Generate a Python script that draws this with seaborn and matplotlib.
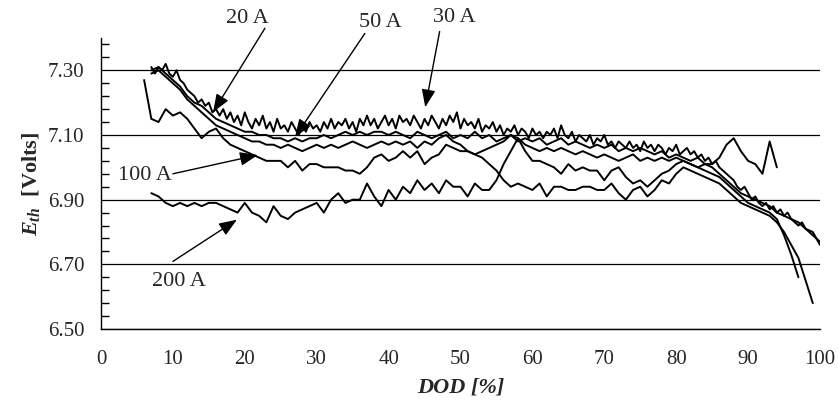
import matplotlib
matplotlib.use('Agg')
import matplotlib.pyplot as plt
from matplotlib.ticker import FixedLocator
import pandas as pd
import seaborn as sns

dod = [6, 7, 8, 9, 10, 11, 12, 13, 14, 15, 16, 17, 18, 19, 20, 21, 22, 23, 24, 25,
       26, 27, 28, 29, 30, 31, 32, 33, 34, 35, 36, 37, 38, 39, 40, 41, 42, 43, 44, 45,
       46, 47, 48, 49, 50, 51, 52, 53, 54, 55, 56, 57, 58, 59, 60, 61, 62, 63, 64, 65,
       66, 67, 68, 69, 70, 71, 72, 73, 74, 75, 76, 77, 78, 79, 80, 81, 82, 83, 84, 85,
       86, 87, 88, 89, 90, 91, 92, 93, 94, 95, 96, 97, 98, 99, 100]
# the 20 A curve is noisier, read at half-percent steps
dod_half = [d / 2 for d in range(14, 201)]

# E_th [V] per discharge current
eth_20 = [7.31, 7.29, 7.31, 7.30, 7.32, 7.29, 7.28, 7.30, 7.27, 7.26,
          7.24, 7.23, 7.22, 7.20, 7.21, 7.19, 7.20, 7.17, 7.18, 7.16,
          7.18, 7.15, 7.17, 7.14, 7.16, 7.13, 7.17, 7.14, 7.12, 7.15,
          7.13, 7.16, 7.12, 7.14, 7.11, 7.15, 7.12, 7.13, 7.11, 7.14,
          7.12, 7.10, 7.13, 7.11, 7.14, 7.12, 7.13, 7.11, 7.14, 7.12,
          7.15, 7.12, 7.14, 7.13, 7.15, 7.12, 7.14, 7.11, 7.15, 7.13,
          7.16, 7.13, 7.15, 7.12, 7.14, 7.16, 7.13, 7.15, 7.12, 7.16,
          7.14, 7.15, 7.13, 7.16, 7.14, 7.12, 7.15, 7.13, 7.16, 7.14,
          7.12, 7.15, 7.13, 7.16, 7.14, 7.17, 7.12, 7.15, 7.13, 7.14,
          7.12, 7.15, 7.11, 7.13, 7.12, 7.14, 7.11, 7.13, 7.10, 7.12,
          7.11, 7.13, 7.10, 7.12, 7.11, 7.09, 7.12, 7.10, 7.11, 7.09,
          7.11, 7.10, 7.12, 7.09, 7.13, 7.10, 7.09, 7.11, 7.08, 7.10,
          7.09, 7.08, 7.10, 7.07, 7.09, 7.08, 7.10, 7.07, 7.08, 7.06,
          7.08, 7.07, 7.06, 7.08, 7.06, 7.07, 7.05, 7.08, 7.06, 7.07,
          7.05, 7.07, 7.06, 7.04, 7.06, 7.05, 7.07, 7.04, 7.05, 7.06,
          7.04, 7.05, 7.03, 7.04, 7.02, 7.03, 7.01, 7.02, 7.00, 6.99,
          6.98, 6.97, 6.96, 6.94, 6.93, 6.94, 6.92, 6.90, 6.91, 6.89,
          6.88, 6.89, 6.87, 6.88, 6.86, 6.87, 6.85, 6.86, 6.84, 6.83,
          6.82, 6.83, 6.81, 6.80, 6.79, 6.78, 6.77]

start_30 = 7
eth_30 = [7.30, 7.31, 7.29, 7.27, 7.25, 7.22, 7.20, 7.19, 7.17, 7.15,
          7.14, 7.13, 7.12, 7.11, 7.11, 7.10, 7.10, 7.09, 7.09, 7.08,
          7.09, 7.08, 7.09, 7.09, 7.10, 7.09, 7.10, 7.11, 7.10, 7.11,
          7.10, 7.11, 7.11, 7.10, 7.11, 7.10, 7.09, 7.11, 7.10, 7.09,
          7.10, 7.11, 7.09, 7.10, 7.09, 7.11, 7.09, 7.10, 7.08, 7.09,
          7.10, 7.08, 7.09, 7.08, 7.09, 7.07, 7.08, 7.09, 7.07, 7.08,
          7.07, 7.06, 7.07, 7.06, 7.07, 7.05, 7.06, 7.05, 7.06, 7.05,
          7.04, 7.05, 7.03, 7.04, 7.03, 7.02, 7.03, 7.01, 7.00, 6.98,
          6.96, 6.94, 6.92, 6.91, 6.90, 6.89, 6.88, 6.86, 6.85, 6.84,
          6.83, 6.81, 6.80, 6.76]

start_50 = 7
eth_50 = [7.29, 7.30, 7.28, 7.26, 7.24, 7.21, 7.19, 7.17, 7.15, 7.13,
          7.12, 7.11, 7.10, 7.09, 7.08, 7.08, 7.07, 7.07, 7.06, 7.07,
          7.06, 7.05, 7.06, 7.07, 7.06, 7.07, 7.06, 7.07, 7.08, 7.07,
          7.06, 7.07, 7.08, 7.07, 7.08, 7.07, 7.08, 7.06, 7.08, 7.07,
          7.09, 7.10, 7.08, 7.07, 7.05, 7.04, 7.05, 7.06, 7.07, 7.08,
          7.10, 7.09, 7.07, 7.06, 7.05, 7.06, 7.05, 7.06, 7.05, 7.04,
          7.05, 7.04, 7.03, 7.04, 7.03, 7.02, 7.03, 7.04, 7.02, 7.03,
          7.02, 7.03, 7.02, 7.03, 7.02, 7.01, 7.00, 6.99, 6.98, 6.97,
          6.95, 6.93, 6.91, 6.89, 6.88, 6.87, 6.86, 6.84, 6.79, 6.73,
          6.66]

start_100 = 6
eth_100 = [7.27, 7.15, 7.14, 7.18, 7.16, 7.17, 7.15, 7.12, 7.09, 7.11,
           7.12, 7.09, 7.07, 7.06, 7.05, 7.04, 7.03, 7.02, 7.02, 7.02,
           7.00, 7.02, 6.99, 7.01, 7.01, 7.00, 7.00, 7.00, 6.99, 6.99,
           6.98, 7.00, 7.03, 7.04, 7.02, 7.03, 7.05, 7.03, 7.05, 7.01,
           7.03, 7.04, 7.07, 7.06, 7.05, 7.05, 7.04, 7.03, 7.01, 6.99,
           6.96, 6.94, 6.95, 6.94, 6.93, 6.95, 6.91, 6.94, 6.94, 6.93,
           6.93, 6.94, 6.94, 6.93, 6.93, 6.95, 6.92, 6.90, 6.93, 6.94,
           6.91, 6.93, 6.96, 6.95, 6.98, 7.00, 6.99, 6.98, 6.97, 6.96,
           6.95, 6.93, 6.91, 6.89, 6.88, 6.87, 6.86, 6.85, 6.83, 6.80,
           6.76, 6.72, 6.65, 6.58]

start_200 = 7
eth_200 = [6.92, 6.91, 6.89, 6.88, 6.89, 6.88, 6.89, 6.88, 6.89, 6.89,
           6.88, 6.87, 6.86, 6.89, 6.86, 6.85, 6.83, 6.88, 6.85, 6.84,
           6.86, 6.87, 6.88, 6.89, 6.86, 6.90, 6.92, 6.89, 6.90, 6.90,
           6.95, 6.91, 6.88, 6.93, 6.90, 6.94, 6.92, 6.96, 6.93, 6.95,
           6.92, 6.96, 6.94, 6.94, 6.91, 6.95, 6.93, 6.93, 6.96, 7.01,
           7.05, 7.09, 7.05, 7.02, 7.02, 7.01, 7.00, 6.98, 7.01, 6.99,
           7.00, 6.99, 6.99, 6.96, 6.99, 7.00, 6.97, 6.95, 6.96, 6.94,
           6.96, 6.98, 6.99, 7.01, 7.02, 7.01, 7.00, 7.01, 7.01, 7.03,
           7.07, 7.09, 7.05, 7.02, 7.01, 6.98, 7.08, 7.00]

rows = [{'DOD': x, 'Eth': v, 'current': '20 A'} for x, v in zip(dod_half, eth_20)]
for name, start, vals in [('30 A', start_30, eth_30), ('50 A', start_50, eth_50),
                          ('100 A', start_100, eth_100), ('200 A', start_200, eth_200)]:
    i0 = dod.index(start)
    for x, v in zip(dod[i0:i0 + len(vals)], vals):
        rows.append({'DOD': x, 'Eth': v, 'current': name})
df = pd.DataFrame(rows)

sns.set_style('white')
plt.rcParams['font.family'] = ['Liberation Serif', 'DejaVu Serif']
plt.rcParams['mathtext.fontset'] = 'custom'
plt.rcParams['mathtext.it'] = 'Liberation Serif:italic:bold'
plt.rcParams['mathtext.rm'] = 'Liberation Serif:bold'

fig, ax = plt.subplots(figsize=(8.38, 4.16), dpi=100)
fig.subplots_adjust(left=0.1205, right=0.9785, top=0.9087, bottom=0.2091)

sns.lineplot(data=df, x='DOD', y='Eth', hue='current', units='current',
             estimator=None, sort=False, palette=['black'] * 5,
             legend=False, linewidth=1.4, ax=ax)

ax.set_xlim(0, 100)
ax.set_ylim(6.5, 7.4)
ax.set_xticks(range(0, 101, 10))
ax.set_yticks([6.5, 6.7, 6.9, 7.1, 7.3])
ax.set_yticklabels(['6.50', '6.70', '6.90', '7.10', '7.30'])
ax.yaxis.set_minor_locator(FixedLocator([6.5 + 0.04 * k for k in range(23)]))
ax.yaxis.grid(True, which='major', color='black', linewidth=0.9)
ax.set_axisbelow(True)

for s in ['top', 'right']:
    ax.spines[s].set_visible(False)
for s in ['left', 'bottom']:
    ax.spines[s].set_color('black')
    ax.spines[s].set_linewidth(1.0)

ax.tick_params(axis='x', which='major', direction='out', length=6, width=1,
               pad=9, labelsize=15, color='black')
ax.tick_params(axis='y', which='major', direction='out', length=6, width=1,
               pad=6, labelsize=15, color='black')
ax.tick_params(axis='y', which='minor', direction='in', length=6, width=1,
               left=True, color='black')

ax.set_xlabel('DOD [%]', fontsize=16, fontweight='bold', fontstyle='italic', labelpad=6)
ax.set_ylabel(r'$E_{th}$  [Volts]', fontsize=16, fontweight='bold', labelpad=4)

# labels and arrows
labels = [('20 A', (20.4, 7.46), (22.8, 7.43), (15.6, 7.171)),
          ('50 A', (38.9, 7.448), (36.7, 7.414), (27.0, 7.094)),
          ('30 A', (49.2, 7.463), (47.1, 7.42), (45.1, 7.186)),
          ('100 A', (6.1, 6.974), (10.0, 6.98), (21.8, 7.038)),
          ('200 A', (10.8, 6.648), (10.0, 6.709), (18.9, 6.838))]
for txt, tpos, tail, tip in labels:
    ax.text(tpos[0], tpos[1], txt, fontsize=16, ha='center', va='center',
            clip_on=False)
    ax.annotate('', xy=tip, xytext=tail, annotation_clip=False,
                arrowprops=dict(arrowstyle='-|>,head_length=0.9,head_width=0.35',
                                color='black', lw=1.0, mutation_scale=12,
                                shrinkA=0, shrinkB=0))

fig.savefig('out.png', dpi=100)
